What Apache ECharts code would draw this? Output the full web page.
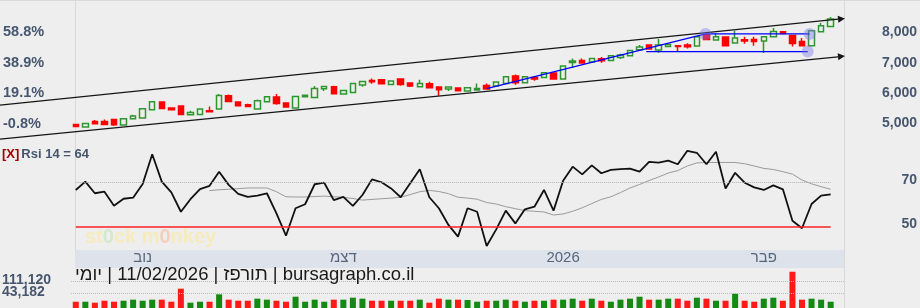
<!DOCTYPE html>
<html><head><meta charset="utf-8">
<script src="https://cdn.jsdelivr.net/npm/echarts@6/dist/echarts.min.js"></script>
<style>html,body{margin:0;padding:0;background:#eeeeee;}#c{width:920px;height:308px;}</style>
</head><body><div id="c"></div>
<script>
const FONT = 'Liberation Sans, Arial, sans-serif';
// [open, close, low, high]
const candles = [
[4974,4908,4900,4980],[4885,5007,4880,5010],[5072,4993,4990,5115],[5072,4974,4970,5138],[5138,4960,4918,5140],
[4951,5158,4945,5160],[5158,5247,5150,5290],[5181,5487,5175,5495],[5454,5717,5450,5730],[5707,5500,5495,5715],
[5510,5454,5450,5520],[5576,5303,5300,5580],[5290,5368,5285,5421],[5303,5484,5300,5505],[5421,5388,5385,5566],
[5477,5928,5470,5970],[5915,5730,5725,5960],[5707,5586,5580,5720],[5619,5566,5560,5651],[5477,5750,5470,5796],
[5717,5882,5710,5890],[5872,5665,5619,5970],[5675,5543,5530,5680],[5510,5895,5505,5900],[5882,5935,5870,5960],
[5862,6158,5855,6234],[6145,6224,6070,6230],[6211,5980,5975,6244],[5970,6092,5965,6100],[6026,6323,6020,6330],
[6267,6388,6211,6395],[6421,6375,6310,6487],[6441,6310,6305,6450],[6290,6398,6285,6400],[6464,6290,6244,6470],
[6332,6234,6200,6340],[6211,6323,6205,6441],[6310,6178,6170,6375],[6201,6112,5915,6210],[6135,6201,6070,6210],
[6168,6079,6070,6180],[6069,6178,6060,6200],[6102,6158,6100,6323],[6257,6135,6130,6323],[6234,6365,6230,6380],
[6323,6540,6320,6550],[6563,6342,6277,6619],[6342,6540,6335,6550],[6520,6464,6408,6563],[6520,6671,6515,6680],
[6661,6464,6460,6670],[6464,6892,6460,6900],[7013,7056,6836,7145],[7079,6990,6980,7145],[7023,7145,7015,7150],
[7132,7066,7000,7188],[7079,7231,7075,7240],[7178,7254,7122,7296],[7231,7408,7225,7415],[7428,7517,7420,7583],
[7583,7451,7445,7590],[7418,7583,7330,7780],[7540,7606,7530,7630],[7560,7540,7362,7565],[7583,7527,7474,7640],
[7550,7856,7545,7860],[7922,7770,7760,7930],[7747,7856,7740,7967],[7846,7560,7555,7850],[7648,7813,7640,8053],
[7757,7714,7625,7856],[7770,7704,7560,7856],[7714,7856,7320,7860],[7856,8033,7850,8142],[8020,7967,7960,8025],
[7902,7638,7540,7910],[7704,7560,7550,7813],[7560,8053,7555,8060],[8020,8217,8015,8306],[8198,8438,8190,8504]
];
const volumes = [
21700,21700,20100,23500,21700,23500,25500,23500,25500,25500,
21700,60600,20100,21700,21700,38900,25500,23500,23500,27600,
25500,23500,21700,32200,21700,25500,21700,25500,25500,29800,
27600,23500,23500,23500,23500,23500,25500,20100,27600,25500,
25500,24800,21700,23500,23500,25500,23500,21700,23500,23500,
25500,25500,27600,23500,27600,23500,21700,25500,27600,32200,
25500,25500,27600,27600,23500,29800,27600,23500,23500,40800,
23500,21700,27600,29800,23500,231000,25500,27600,25500,21700
];
const rsi = [
66.7,70.5,65.2,65.9,59.5,62.7,63.2,69.4,82.9,70.5,
65.6,56.8,62.5,67.1,68.6,75.0,69.0,64.9,63.6,64.1,
65.2,56.1,45.9,58.4,60.2,69.3,70.0,62.1,63.6,59.5,
64.4,71.5,70.2,67.4,63.4,69.7,76.1,63.4,58.4,50.8,
45.5,58.4,56.8,41.2,48.8,57.3,51.5,57.9,59.1,66.7,
57.3,70.9,77.3,73.8,77.9,74.3,75.8,76.2,76.4,75.0,
79.5,79.1,80.0,78.4,84.5,83.6,78.4,84.1,67.4,74.5,
70.0,67.9,66.7,68.8,67.0,52.7,49.3,60.3,64.1,64.7
];
const rsiAvg = [
null,null,null,null,null,null,null,null,null,null,
null,null,null,null,66.4,66.8,67.0,67.3,67.6,67.6,
67.6,65.9,63.6,63.5,63.5,63.7,63.9,63.6,63.4,62.8,
62.1,62.4,62.7,63.0,63.4,64.6,65.9,66.5,66.0,65.0,
63.4,63.0,62.5,61.0,60.3,59.1,58.2,57.3,57.0,56.7,
55.3,55.8,57.0,58.6,60.5,62.4,63.6,65.5,67.6,69.2,
71.0,72.6,74.4,75.5,77.6,79.0,79.2,79.2,79.2,79.2,
78.6,77.6,76.5,76.0,75.0,73.9,71.2,69.5,68.2,67.0
];
const monthLabels = {7:'נוב', 28:'דצמ', 51:'2026', 72:'פבר'};
const percentBase = 5038;
const rsiLevels = [70, 50];
const volumeMarks = [111120, 43182];
const volumeLabels = ['111,120', '43,182'];
const upperChannel = [[0,5864],[79,8410]];
const lowerChannel = [[0,4735],[79,7174]];
const blueRise = [[43,6150],[65.9,7950]];
const blueTop = [[65.9,7950],[76.8,7950]];
const blueBottom = [[59.7,7369],[76.6,7369]];
const blueMarkers = [[65.9,7950],[76.8,7950],[76.6,7369]];
const titleText = 'יומי\u200E | 11/02/2026 | תורפז\u200E | bursagraph.co.il';

const SLOTS = 81;
const cats = Array.from({length: SLOTS}, (_, i) => String(i));
const GL = 71, GR = 75;
const labelColor = '#46566e';

const chart = echarts.init(document.getElementById('c'), null, {renderer: 'canvas'});
const hiddenX = (g) => ({type:'category', gridIndex:g, data:cats, boundaryGap:true, show:false});

const option = {
  animation: false,
  backgroundColor: '#eeeeee',
  grid: [
    {left: GL, right: GR, top: 2, height: 152},
    {left: GL, right: GR, top: 138.7, height: 110},
    {left: GL, right: GR, top: 262, height: 46},
    {left: GL, right: GR, top: 250, height: 18}
  ],
  xAxis: [
    hiddenX(0), hiddenX(1), hiddenX(2),
    {type:'category', gridIndex:3, data:cats, boundaryGap:true, position:'top', z:10,
     axisLine:{show:false}, axisTick:{show:false}, splitLine:{show:false},
     axisLabel:{inside:true, interval:0, margin:8, verticalAlign:'middle', fontFamily:FONT, fontSize:15, color:'#56667d',
       formatter:(v, i) => monthLabels[i] || ''}}
  ],
  yAxis: [
    {type:'value', gridIndex:0, position:'right', min:4000, max:9000, interval:1000,
     axisLine:{show:false}, axisTick:{show:false}, splitLine:{show:false},
     axisLabel:{showMinLabel:false, showMaxLabel:false, align:'right', margin:72, fontFamily:FONT, fontSize:14, fontWeight:'bold', color:labelColor,
       formatter:v => v.toLocaleString('en-US')}},
    {type:'value', gridIndex:0, position:'left', min:4000, max:9000, interval:1000,
     axisLine:{show:false}, axisTick:{show:false}, splitLine:{show:false},
     axisLabel:{showMinLabel:false, showMaxLabel:false, align:'left', margin:GL-3, fontFamily:FONT, fontSize:14.5, fontWeight:'bold', color:labelColor,
       formatter:v => ((v/percentBase - 1)*100).toFixed(1) + '%'}},
    {type:'value', gridIndex:1, position:'right', min:40, max:90, interval:10,
     axisLine:{show:false}, axisTick:{show:false}, splitLine:{show:false}, axisLabel:{show:false}},
    {type:'log', gridIndex:2, min:13213, max:497600, show:false, splitLine:{show:false}},
    {type:'value', gridIndex:3, show:false}
  ],
  series: [
    {type:'candlestick', xAxisIndex:0, yAxisIndex:0, barWidth:6, data:candles,
     itemStyle:{color:'#eeeeee', color0:'#ff0000', borderColor:'#2f962f', borderColor0:'#ff0000', borderWidth:1.5}},
    {type:'line', xAxisIndex:1, yAxisIndex:2, data:rsiAvg, symbol:'none', connectNulls:false,
     lineStyle:{color:'#9a9a9a', width:1}, z:3},
    {type:'line', xAxisIndex:1, yAxisIndex:2, data:rsi, symbol:'none',
     lineStyle:{color:'#111111', width:1.8}, z:4,
     markLine:{silent:true, symbol:'none', label:{show:false}, data:[
       [{coord:[0, rsiLevels[0]], lineStyle:{color:'#b0b0b0', type:'dotted', width:1}}, {coord:[79, rsiLevels[0]]}],
       [{coord:[0, rsiLevels[1]], lineStyle:{color:'#ff2020', type:'solid', width:1.5}}, {coord:[79, rsiLevels[1]]}]
     ]}},
    {type:'bar', xAxisIndex:2, yAxisIndex:3, barWidth:6,
     data: volumes.map((v, i) => ({value:v, itemStyle:{color: candles[i][1] >= candles[i][0] ? '#148a14' : '#ff1a1a'}})),
     markLine:{silent:true, symbol:'none', label:{show:false}, lineStyle:{color:'#bdbdbd', type:'dotted', width:1},
       data: volumeMarks.map(v => ({yAxis:v}))}}
  ]
};
chart.setOption(option);

const W = chart.getWidth(), H = chart.getHeight();
const plotLeft = 75, plotRight = W - GR;
const P = (i, p) => {
  const a = chart.convertToPixel({xAxisIndex:0, yAxisIndex:0}, [0, p]);
  const b = chart.convertToPixel({xAxisIndex:0, yAxisIndex:0}, [1, p]);
  return [a[0] + (b[0]-a[0])*i, a[1]];
};
function channel(pts) {
  const A = P(pts[0][0], pts[0][1]), B = P(pts[1][0], pts[1][1]);
  const s = (B[1]-A[1])/(B[0]-A[0]);
  const yAt = x => A[1] + s*(x - A[0]);
  const len = 7, hw = 3.5;
  const dx = 1/Math.sqrt(1+s*s), dy = s*dx;
  const tip = [plotRight, yAt(plotRight)];
  const base = [tip[0]-len*dx, tip[1]-len*dy];
  const nx = -dy, ny = dx;
  return [
    {type:'line', z:50, shape:{x1:0, y1:yAt(0), x2:base[0], y2:base[1]}, style:{stroke:'#151515', lineWidth:1.3}},
    {type:'polygon', z:50, shape:{points:[tip, [base[0]+nx*hw, base[1]+ny*hw], [base[0]-nx*hw, base[1]-ny*hw]]}, style:{fill:'#151515'}}
  ];
}
function seg(pts) {
  const A = P(pts[0][0], pts[0][1]), B = P(pts[1][0], pts[1][1]);
  return {type:'line', z:51, shape:{x1:A[0], y1:A[1], x2:B[0], y2:B[1]}, style:{stroke:'#0000ff', lineWidth:1.4}};
}
const volY = v => chart.convertToPixel({xAxisIndex:2, yAxisIndex:3}, [0, v])[1];
const rsiY = v => chart.convertToPixel({xAxisIndex:1, yAxisIndex:2}, [0, v])[1];

const els = [
  {type:'rect', z:0, shape:{x:plotLeft, y:250, width:plotRight-plotLeft, height:18}, style:{fill:'#dee2ea'}},
  {type:'line', z:1, shape:{x1:0, y1:0.5, x2:W, y2:0.5}, style:{stroke:'#dadada', lineWidth:1}},
  {type:'line', z:1, shape:{x1:plotLeft+0.5, y1:0, x2:plotLeft+0.5, y2:250}, style:{stroke:'#d9d9d9', lineWidth:1}},
  {type:'line', z:1, shape:{x1:plotRight-0.5, y1:0, x2:plotRight-0.5, y2:H}, style:{stroke:'#d9d9d9', lineWidth:1}},
  ...channel(upperChannel), ...channel(lowerChannel),
  seg(blueRise), seg(blueTop), seg(blueBottom),
  ...blueMarkers.map(m => { const c = P(m[0], m[1]); return {type:'circle', z:52, shape:{cx:c[0], cy:c[1], r:6}, style:{fill:'rgba(120,120,235,0.42)'}}; }),
  ...rsiLevels.map(v => ({type:'text', z:60, x:917, y:rsiY(v)-3, style:{text:String(v), textAlign:'right', textVerticalAlign:'middle',
    fontFamily:FONT, fontSize:14, fontWeight:'bold', fill:labelColor}})),
  {type:'text', z:60, x:2, y:154, style:{text:'{x|[X]}{r|Rsi 14 = 64}', textVerticalAlign:'middle',
    rich:{x:{fontFamily:FONT, fontSize:13, fontWeight:'bold', fill:'#a00000', padding:[0,2,0,0]},
          r:{fontFamily:FONT, fontSize:13, fontWeight:'bold', fill:labelColor}}}},
  {type:'text', z:5, x:85, y:237, style:{text:'{a|st}{b|0}{a|ck m}{c|0}{a|nkey}', textVerticalAlign:'middle',
    rich:{a:{fontFamily:FONT, fontSize:20, fontWeight:'bold', fill:'#f6ebbd'},
          b:{fontFamily:FONT, fontSize:20, fontWeight:'bold', fill:'#d3e8cc'},
          c:{fontFamily:FONT, fontSize:20, fontWeight:'bold', fill:'#f3cfbd'}}}},
  {type:'text', z:60, x:75, y:275, style:{text:titleText, textVerticalAlign:'middle', fontFamily:FONT, fontSize:18.5, fill:'#1a1a1a'}},
  ...volumeMarks.map((v, k) => ({type:'text', z:60, x:2, y:volY(v)-1, style:{text:volumeLabels[k], textVerticalAlign:'middle',
    fontFamily:FONT, fontSize:14, fontWeight:'bold', fill:labelColor}}))
];
chart.setOption({graphic:{elements:els}});
</script></body></html>
